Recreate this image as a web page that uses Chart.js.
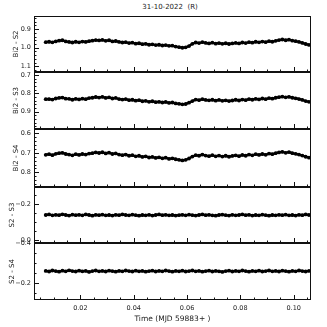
<!DOCTYPE html>
<html>
<head>
<meta charset="UTF-8">
<title>31-10-2022 (R)</title>
<script src="https://cdn.jsdelivr.net/npm/chart.js"></script>
<style>
    body { margin: 0; background: #fff; }
    #wrap { position: relative; width: 327px; height: 327px; overflow: hidden; background: #fff; }
    #wrap canvas { position: absolute; left: 0; }
    #title {
        position: absolute; top: 3px; left: 110px; width: 120px;
        text-align: center; font: 7px 'DejaVu Sans', sans-serif; color: #222; white-space: pre;
    }
</style>
</head>
<body>
<div id="wrap">
    <div id="title">31-10-2022  (R)</div>
    <canvas id="p0" width="327" height="72" style="top:8px"></canvas>
    <canvas id="p1" width="327" height="73" style="top:64px"></canvas>
    <canvas id="p2" width="327" height="74" style="top:121px"></canvas>
    <canvas id="p3" width="327" height="72" style="top:179px"></canvas>
    <canvas id="p4" width="327" height="92" style="top:235px"></canvas>
</div>
<script>
// time (MJD 59883+)
const times = [
    0.00700,0.00825,0.00950,0.01075,0.01200,0.01325,0.01450,0.01575,0.01700,0.01825,
    0.01950,0.02075,0.02200,0.02325,0.02450,0.02575,0.02700,0.02825,0.02950,0.03075,
    0.03200,0.03325,0.03450,0.03575,0.03700,0.03825,0.03950,0.04075,0.04200,0.04325,
    0.04450,0.04575,0.04700,0.04825,0.04950,0.05075,0.05200,0.05325,0.05450,0.05575,
    0.05700,0.05825,0.05950,0.06075,0.06200,0.06325,0.06450,0.06575,0.06700,0.06825,
    0.06950,0.07075,0.07200,0.07325,0.07450,0.07575,0.07700,0.07825,0.07950,0.08075,
    0.08200,0.08325,0.08450,0.08575,0.08700,0.08825,0.08950,0.09075,0.09200,0.09325,
    0.09450,0.09575,0.09700,0.09825,0.09950,0.10075,0.10200,0.10325,0.10450,0.10575
];
const bi2S2 = [
    0.970,0.968,0.971,0.966,0.962,0.960,0.966,0.969,0.972,0.968,
    0.971,0.967,0.969,0.965,0.962,0.959,0.961,0.958,0.963,0.960,
    0.966,0.964,0.969,0.972,0.970,0.975,0.973,0.978,0.976,0.981,
    0.979,0.984,0.982,0.986,0.984,0.988,0.986,0.990,0.989,0.994,
    0.997,1.000,0.998,0.991,0.979,0.972,0.975,0.970,0.974,0.977,
    0.973,0.978,0.975,0.979,0.976,0.980,0.977,0.974,0.977,0.972,
    0.975,0.970,0.973,0.968,0.971,0.967,0.970,0.965,0.968,0.963,
    0.959,0.956,0.960,0.957,0.962,0.965,0.969,0.974,0.980,0.985
];
const bi2S3 = [
    0.832,0.831,0.834,0.828,0.825,0.823,0.829,0.830,0.835,0.830,
    0.833,0.829,0.832,0.826,0.824,0.820,0.823,0.819,0.825,0.822,
    0.828,0.825,0.831,0.834,0.831,0.837,0.835,0.840,0.837,0.843,
    0.841,0.846,0.843,0.848,0.846,0.850,0.847,0.852,0.850,0.855,
    0.857,0.860,0.858,0.851,0.842,0.834,0.837,0.832,0.836,0.838,
    0.835,0.840,0.836,0.841,0.838,0.842,0.839,0.835,0.839,0.834,
    0.837,0.831,0.835,0.830,0.833,0.828,0.832,0.826,0.829,0.824,
    0.821,0.818,0.822,0.819,0.824,0.827,0.831,0.836,0.842,0.846
];
const bi2S4 = [
    0.710,0.707,0.712,0.705,0.702,0.700,0.706,0.709,0.713,0.707,
    0.711,0.706,0.709,0.704,0.702,0.698,0.701,0.697,0.703,0.699,
    0.706,0.703,0.709,0.712,0.709,0.715,0.712,0.718,0.715,0.721,
    0.718,0.724,0.721,0.726,0.723,0.728,0.725,0.731,0.728,0.733,
    0.736,0.739,0.736,0.729,0.719,0.712,0.715,0.709,0.714,0.717,
    0.712,0.718,0.714,0.719,0.715,0.720,0.716,0.713,0.717,0.711,
    0.715,0.709,0.713,0.707,0.711,0.706,0.710,0.704,0.707,0.702,
    0.698,0.695,0.700,0.696,0.702,0.705,0.709,0.714,0.720,0.725
];
const s2S3 = [
    -0.140,-0.143,-0.138,-0.141,-0.139,-0.144,-0.140,-0.137,-0.142,-0.139,
    -0.141,-0.138,-0.143,-0.140,-0.136,-0.141,-0.139,-0.142,-0.138,-0.140,
    -0.137,-0.141,-0.139,-0.143,-0.140,-0.138,-0.142,-0.139,-0.136,-0.140,
    -0.138,-0.141,-0.137,-0.140,-0.143,-0.139,-0.141,-0.138,-0.140,-0.137,
    -0.139,-0.141,-0.138,-0.142,-0.139,-0.137,-0.140,-0.143,-0.139,-0.141,
    -0.138,-0.136,-0.140,-0.142,-0.139,-0.137,-0.141,-0.138,-0.140,-0.143,
    -0.139,-0.141,-0.137,-0.140,-0.138,-0.142,-0.139,-0.136,-0.140,-0.138,
    -0.141,-0.139,-0.142,-0.138,-0.140,-0.137,-0.141,-0.139,-0.143,-0.140
];
const s2S4 = [
    -0.261,-0.258,-0.263,-0.260,-0.257,-0.262,-0.259,-0.264,-0.260,-0.258,
    -0.262,-0.259,-0.261,-0.256,-0.260,-0.263,-0.259,-0.261,-0.258,-0.262,
    -0.260,-0.257,-0.261,-0.259,-0.263,-0.260,-0.258,-0.262,-0.259,-0.261,
    -0.257,-0.260,-0.262,-0.258,-0.261,-0.259,-0.263,-0.260,-0.257,-0.261,
    -0.259,-0.262,-0.258,-0.260,-0.263,-0.259,-0.261,-0.257,-0.260,-0.262,
    -0.258,-0.261,-0.259,-0.256,-0.260,-0.262,-0.258,-0.261,-0.259,-0.263,
    -0.260,-0.257,-0.261,-0.259,-0.262,-0.258,-0.260,-0.263,-0.259,-0.261,
    -0.258,-0.262,-0.260,-0.257,-0.261,-0.259,-0.263,-0.260,-0.258,-0.261
];
const panelLabels = ['Bi2 - S2', 'Bi2 - S3', 'Bi2 - S4', 'S2 - S3', 'S2 - S4'];
const xTickLabels = [0.02, 0.04, 0.06, 0.08, 0.10];
const yTickLabels = [[0.9, 1.0, 1.1], [0.7, 0.8, 0.9], [0.6, 0.7, 0.8], [-0.2, 0.0], [-0.4, -0.2]];

const series = [bi2S2, bi2S3, bi2S4, s2S3, s2S4];
const yRanges = [[0.83, 1.13], [0.684, 0.994], [0.578, 0.875], [-0.295, 0.015], [-0.401, -0.115]];
const yMinor = [0.02, 0.02, 0.02, 0.05, 0.05];
const yTitlePad = [12, 12, 12, 8, 8];
const X_MIN = 0.0026, X_MAX = 0.1065, X_MINOR = 0.005;

Chart.defaults.font.family = "'DejaVu Sans', sans-serif";
Chart.defaults.color = '#222';

function fmt(v, d) {
    const s = Math.abs(v).toFixed(d);
    return v < -1e-9 ? '\u2212' + s : s;
}

// box + inward ticks like matplotlib
function makeFrame(i) {
    return {
        id: 'frame' + i,
        afterDatasetsDraw(chart) {
            const ctx = chart.ctx;
            const a = chart.chartArea;
            const x = chart.scales.x, y = chart.scales.y;
            ctx.save();
            ctx.strokeStyle = '#111';
            ctx.lineWidth = 1;
            ctx.beginPath();
            for (let k = 1; k * X_MINOR < X_MAX; k++) {
                const v = k * X_MINOR;
                if (v < X_MIN) continue;
                const px = Math.round(x.getPixelForValue(v)) + 0.5;
                const len = k % 4 === 0 ? 5 : 2.5;
                ctx.moveTo(px, a.bottom);
                ctx.lineTo(px, a.bottom - len);
            }
            const step = yMinor[i];
            const lo = yRanges[i][0], hi = yRanges[i][1];
            for (let k = Math.ceil(lo / step - 1e-6); k * step <= hi + 1e-9; k++) {
                const v = k * step;
                const py = Math.round(y.getPixelForValue(v)) + 0.5;
                const major = yTickLabels[i].some(m => Math.abs(m - v) < 1e-6);
                ctx.moveTo(a.left, py);
                ctx.lineTo(a.left + (major ? 5 : 2.5), py);
            }
            ctx.stroke();
            ctx.strokeRect(Math.round(a.left) + 0.5, Math.round(a.top) + 0.5,
                Math.round(a.right - a.left) - 1, Math.round(a.bottom - a.top) - 1);
            ctx.restore();
        }
    };
}

series.forEach((vals, i) => {
    const last = i === series.length - 1;
    new Chart(document.getElementById('p' + i), {
        type: 'scatter',
        data: {
            datasets: [{
                data: times.map((t, j) => ({ x: t, y: vals[j] })),
                showLine: true,
                borderColor: '#000',
                backgroundColor: '#000',
                borderWidth: 2.4,
                pointRadius: 1.9,
                pointBorderWidth: 0
            }]
        },
        options: {
            responsive: false,
            animation: false,
            devicePixelRatio: 1,
            layout: { padding: { top: 8, bottom: last ? 0 : 8, left: 0, right: 16 } },
            plugins: {
                legend: { display: false },
                tooltip: { enabled: false }
            },
            scales: {
                x: {
                    type: 'linear',
                    min: X_MIN,
                    max: X_MAX,
                    display: last,
                    grid: { display: false, drawTicks: false },
                    border: { display: false },
                    afterBuildTicks: s => { s.ticks = xTickLabels.map(v => ({ value: v })); },
                    afterFit: s => { if (last) s.height = 27; },
                    ticks: { autoSkip: false, maxRotation: 0, padding: 4, font: { size: 6.5 }, callback: v => fmt(v, 2) },
                    title: { display: true, text: 'Time (MJD 59883+ )', font: { size: 7.5 }, padding: { top: 0, bottom: 3 } }
                },
                y: {
                    type: 'linear',
                    reverse: true,
                    min: yRanges[i][0],
                    max: yRanges[i][1],
                    grid: { display: false, drawTicks: false },
                    border: { display: false },
                    afterBuildTicks: s => { s.ticks = yTickLabels[i].map(v => ({ value: v })); },
                    afterFit: s => { s.width = 34; },
                    ticks: { autoSkip: false, padding: 3, font: { size: 6.5 }, callback: v => fmt(v, 1) },
                    title: { display: true, text: panelLabels[i], font: { size: 7 }, padding: { top: yTitlePad[i], bottom: 0 } }
                }
            }
        },
        plugins: [makeFrame(i)]
    });
});
</script>
</body>
</html>
